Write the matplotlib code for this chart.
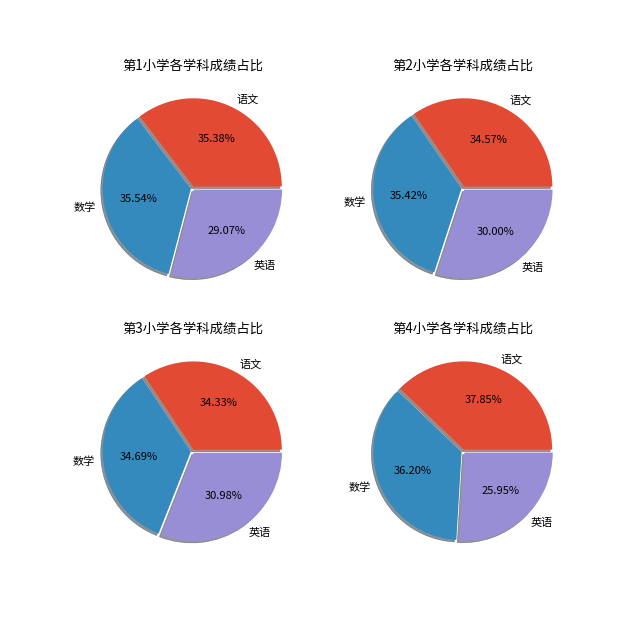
import matplotlib
matplotlib.use("Agg")
import matplotlib.pyplot as plt

plt.style.use('ggplot')
plt.rcParams['font.family'] = ['Noto Sans CJK SC', 'DejaVu Sans']
plt.rcParams['axes.unicode_minus'] = False

subjects = ['语文', '数学', '英语']
school1 = [35.38, 35.54, 29.07]
school2 = [34.57, 35.42, 30.00]
school3 = [34.33, 34.69, 30.98]
school4 = [37.85, 36.20, 25.95]
titles = ['第1小学各学科成绩占比', '第2小学各学科成绩占比',
          '第3小学各学科成绩占比', '第4小学各学科成绩占比']
colors = ['#E24A33', '#348ABD', '#988ED5']

fig, axes = plt.subplots(2, 2, figsize=(8, 8), dpi=80)
fig.subplots_adjust(left=0.125, right=0.9, top=0.881, bottom=0.12,
                    wspace=0.2, hspace=0.175)
for ax, vals, title in zip(axes.flat, [school1, school2, school3, school4], titles):
    ax.pie(vals, labels=subjects, autopct='%.2f%%', colors=colors,
           explode=[0.02, 0.02, 0.02], shadow=True, radius=0.985,
           textprops={'fontsize': 10, 'color': 'black'})
    ax.set_title(title, fontsize=12, color='black')
    ax.set_aspect('equal')

fig.savefig('out.png', dpi=80, facecolor='white')
